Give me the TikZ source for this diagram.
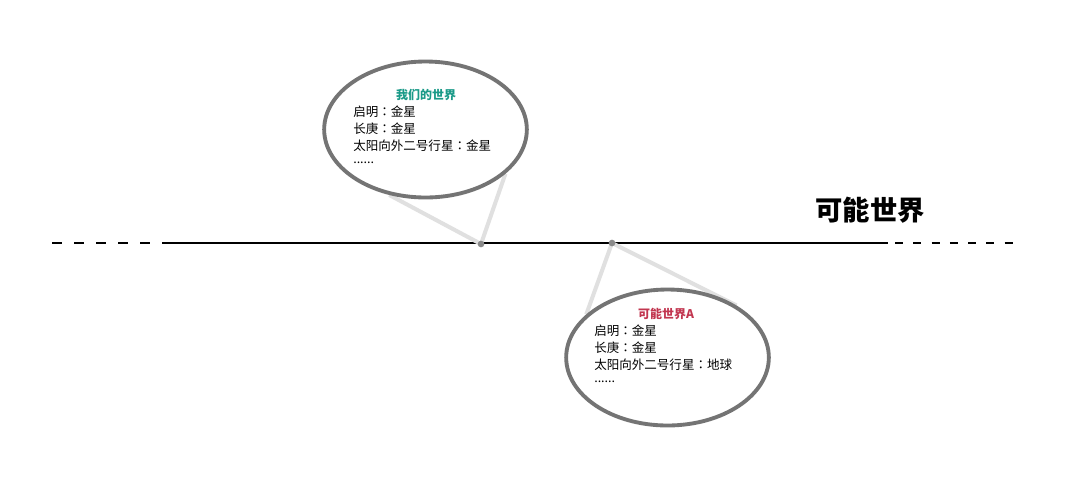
\documentclass[tikz,border=0pt]{standalone}
\usepackage{fontspec}
\setmainfont{Noto Sans CJK SC}
\newfontfamily\tcfont{Noto Sans CJK TC}
\usetikzlibrary{shapes.geometric,backgrounds}
\definecolor{bubblegray}{HTML}{747474}
\definecolor{pointergray}{HTML}{E0E0E0}
\definecolor{dotgray}{HTML}{8A8A8A}
\definecolor{teal}{HTML}{1A9A88}
\definecolor{crimson}{HTML}{C23650}
\newcommand{\cc}{{\tcfont ：}}
\begin{document}
\begin{tikzpicture}[x=0.75pt,y=-0.75pt,
  bubble/.style={draw=bubblegray,line width=2.9pt,fill=white,ellipse,inner sep=0pt,
    minimum width=152pt,minimum height=102pt},
  pointer/.style={draw=pointergray,line width=3pt},
  mainline/.style={line width=2.2pt,black},
  dashline/.style={line width=2.2pt,black,dash pattern=on 7.5pt off 9pt},
  dashlineR/.style={line width=2.2pt,black,dash pattern=on 6pt off 7.7pt},
  junction/.style={circle,fill=dotgray,inner sep=0pt,minimum size=5pt},
  body/.style={font=\fontsize{9.4}{12}\selectfont,anchor=west,inner sep=0pt},
  titletext/.style={font=\fontsize{9}{12}\selectfont\bfseries,inner sep=0pt},
  bigtitle/.style={font=\fontsize{20.5}{24}\selectfont\bfseries,inner sep=0pt}]
\useasboundingbox (0,0) rectangle (1080,479);

% bubbles
\node[bubble] (b1) at (425.5,129.5) {};
\node[bubble] (b2) at (667.5,357.5) {};

% junction points
\node[junction] (d1) at (481,244) {};
\node[junction] (d2) at (612,243) {};

\begin{scope}[on background layer]
\fill[white] (0,0) rectangle (1080,479);
% timeline
\coordinate (l0) at (52,243);
\coordinate (l1) at (165,243);
\coordinate (r1) at (888,243);
\coordinate (r2) at (895,243);
\coordinate (r0) at (1022,243);
\draw[dashline] (l0) -- (l1);
\draw[mainline] (l1) -- (r1);
\draw[dashlineR] (r2) -- (r0);
% pointers
\draw[pointer] (b1.241) -- (d1.center) -- (b1.331);
\draw[pointer] (b2.152) -- (d2.center) -- (b2.37);
\end{scope}

% bubble 1 text
\node[titletext,text=teal] (t1) at (426,95) {我们的世界};
\node[body] (a1) at (353,112) {启明\cc 金星};
\node[body] (a2) at (353,129) {长庚\cc 金星};
\node[body] (a3) at (353,146) {太阳向外二号行星\cc 金星};
\node[body] (a4) at (353,163) {......};

% bubble 2 text
\node[titletext,text=crimson] (t2) at (666,314) {可能世界A};
\node[body] (c1) at (594,331) {启明\cc 金星};
\node[body] (c2) at (594,348) {长庚\cc 金星};
\node[body] (c3) at (594,365) {太阳向外二号行星\cc 地球};
\node[body] (c4) at (594,382) {......};

% big title
\node[bigtitle] (big) at (870,210) {可能世界};
\end{tikzpicture}
\end{document}
